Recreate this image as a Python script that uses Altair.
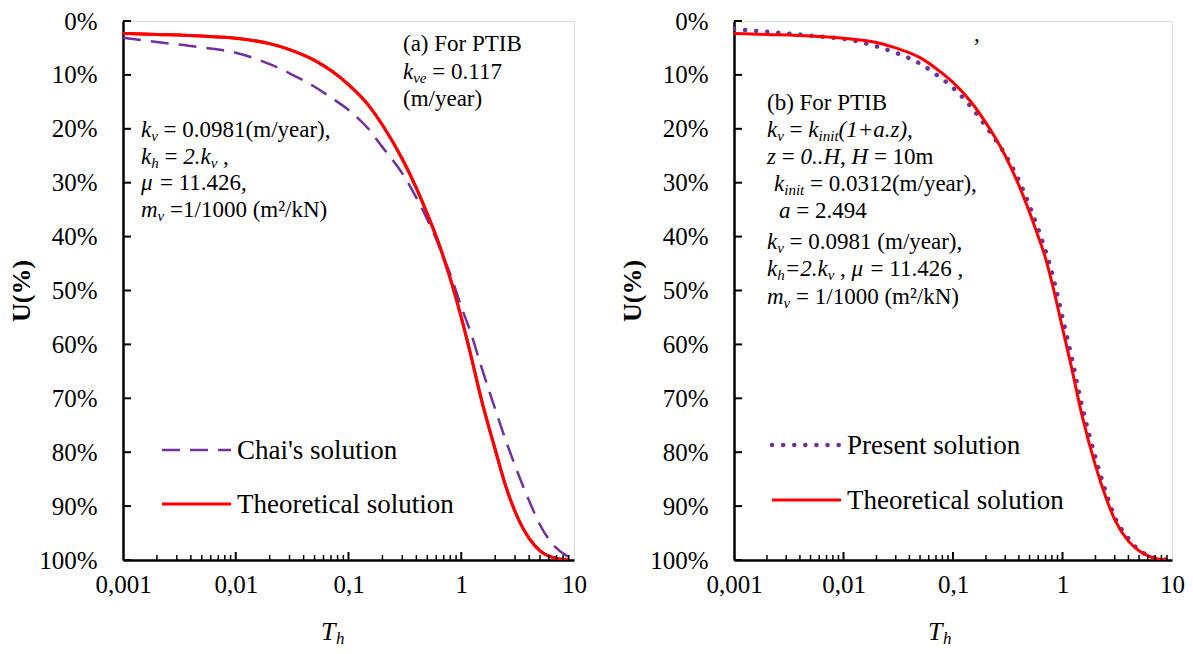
import altair as alt
import pandas as pd

FONT = "'Liberation Serif', 'Times New Roman', Tinos, 'DejaVu Serif', serif"
PURPLE = "#7030A0"
RED = "#FF0000"

# ---------------- data ----------------
a_theory_T = [0.001, 0.002, 0.005, 0.01, 0.02, 0.03, 0.05, 0.07, 0.1, 0.15, 0.2, 0.3, 0.4, 0.5,
              0.6, 0.7, 0.8, 1.0, 1.2, 1.5, 2.0, 2.5, 3.0, 4.0, 5.0, 6.0, 7.0, 8.0, 9.0]
a_theory_U = [2.3, 2.5, 2.8, 3.2, 4.2, 5.3, 7.3, 9.2, 11.8, 15.6, 19.3, 25.6, 31, 35.8,
              40, 44, 47.8, 55, 61.5, 70, 79.5, 86.5, 91, 96, 98.3, 99.3, 99.7, 99.9, 100]

a_chai_T = [0.001, 0.002, 0.005, 0.01, 0.02, 0.03, 0.05, 0.07, 0.1, 0.15, 0.2, 0.3, 0.4, 0.5,
            0.6, 0.7, 0.8, 1.0, 1.2, 1.5, 2.0, 2.5, 3.0, 4.0, 5.0, 6.0, 7.0, 8.0, 10.0]
a_chai_U = [3.1, 3.9, 4.9, 5.9, 8.0, 9.7, 12.2, 14.2, 16.5, 20.0, 23.4, 28.3, 32.8, 36.8,
            40.5, 44, 47, 53, 57.5, 64, 72, 78, 82.5, 89, 93.5, 96.2, 97.8, 98.8, 99.8]

b_theory_T = [0.001, 0.002, 0.005, 0.01, 0.02, 0.03, 0.05, 0.07, 0.1, 0.15, 0.2, 0.3, 0.4, 0.5,
              0.6, 0.7, 0.8, 1.0, 1.2, 1.5, 2.0, 2.5, 3.0, 4.0, 5.0, 6.0, 7.0, 8.0, 9.0]
b_theory_U = [2.3, 2.5, 2.8, 3.2, 4.0, 5.0, 6.8, 8.8, 11.4, 15.3, 18.9, 25, 30.5, 35.5,
              40, 44, 48.5, 57, 64, 73, 82.5, 88.5, 92.5, 96.5, 98.3, 99.2, 99.7, 99.9, 100]

b_present_T = [0.001, 0.0015, 0.002, 0.003, 0.005, 0.007, 0.01, 0.02, 0.03, 0.05, 0.07, 0.1,
               0.15, 0.2, 0.3, 0.4, 0.5, 0.6, 0.7, 0.8, 1.0, 1.2, 1.5, 2.0, 2.5, 3.0, 4.0,
               5.0, 6.0, 7.0, 8.0, 9.0]
b_present_U = [1.5, 1.8, 2.0, 2.3, 2.7, 3.0, 3.3, 4.7, 5.9, 7.9, 9.9, 12.4,
               16.2, 19.6, 24.8, 29.6, 34.3, 38.6, 42.6, 46.6, 55, 62, 71.2, 81, 87.5, 92, 96,
               98.2, 99.1, 99.6, 99.8, 100]

x_tick_values = [0.001, 0.01, 0.1, 1, 10]
x_tick_labels = ["0,001", "0,01", "0,1", "1", "10"]
x_minor_values = [m * d for d in [0.001, 0.01, 0.1, 1] for m in range(2, 10)]
x_major_inner = [0.01, 0.1, 1]
y_tick_values = list(range(0, 101, 10))

# ---------------- layout ----------------
W_A, W_B, H = 451, 438, 539
TOP = 20
A_LEFT, B_LEFT = 124, 736


def to_T(px, left, w):
    return 10 ** (-3 + 4 * (px - left) / w)


def to_U(py):
    return 100 * (py - TOP) / H


ROMAN = {' ': .25, '=': .564, '(': .333, ')': .333, '/': .278, '.': .25, ',': .25, 'm': .778,
         'y': .5, 'e': .444, 'a': .444, 'r': .333, 'k': .5, 'N': .722, '²': .3, 'F': .556,
         'o': .5, 'P': .556, 'T': .611, 'I': .333, 'B': .667, 'b': .5, 'μ': .576, '%': .833,
         "'": .18, 'C': .667, 'h': .5, 'i': .278, 's': .389, 'l': .278, 'u': .5, 't': .278,
         'n': .5, 'c': .444}
ITALIC = {' ': .25, 'k': .444, 'v': .444, 'e': .444, 'h': .5, 'i': .278, 'n': .5, 't': .278,
          'm': .722, 'z': .389, 'a': .5, 'H': .722, '.': .25, '+': .675, '(': .333, ')': .333,
          ',': .25, 'μ': .576, '=': .675, 'T': .556}

FS, SUB_FS, SUB_DY = 23, 15, 4


def seg_rows(lines, left, w):
    rows = []
    for x0, yc, segs in lines:
        cur = x0
        base = yc + 8
        for txt, st in segs:
            size = SUB_FS if st == 's' else FS
            table = ROMAN if st == 'r' else ITALIC
            lead = len(txt) - len(txt.lstrip(' '))
            w_lead = lead * table[' '] * size
            w_full = sum(table.get(c, .5) for c in txt) * size
            t = txt.strip(' ')
            if t:
                py = base + (SUB_DY if st == 's' else 0)
                rows.append(dict(T=to_T(cur + w_lead, left, w), U=to_U(py), text=t, style=st))
            cur += w_full
    return pd.DataFrame(rows)


a_lines = [
    (404, 42, [("(a) For PTIB", 'r')]),
    (404, 70, [("k", 'i'), ("ve", 's'), (" = 0.117", 'r')]),
    (404, 97, [("(m/year)", 'r')]),
    (142, 128, [("k", 'i'), ("v", 's'), (" = 0.0981(m/year),", 'r')]),
    (142, 155, [("k", 'i'), ("h", 's'), (" = ", 'r'), ("2.k", 'i'), ("v", 's'), (" ,", 'r')]),
    (142, 181, [("μ", 'i'), (" = 11.426,", 'r')]),
    (142, 208, [("m", 'i'), ("v", 's'), (" =1/1000 (m²/kN)", 'r')]),
]
b_lines = [
    (769, 101, [("(b) For PTIB", 'r')]),
    (769, 128, [("k", 'i'), ("v", 's'), (" = ", 'r'), ("k", 'i'), ("init", 's'), ("(1+a.z),", 'i')]),
    (769, 155, [("z", 'i'), (" = ", 'r'), ("0..H, H", 'i'), (" = 10m", 'r')]),
    (776, 182, [("k", 'i'), ("init", 's'), (" = 0.0312(m/year),", 'r')]),
    (781, 209, [("a", 'i'), (" = 2.494", 'r')]),
    (769, 240, [("k", 'i'), ("v", 's'), (" = 0.0981 (m/year),", 'r')]),
    (769, 267, [("k", 'i'), ("h", 's'), ("=2.k", 'i'), ("v", 's'), (" , ", 'r'), ("μ", 'i'),
                (" = 11.426 ,", 'r')]),
    (769, 295, [("m", 'i'), ("v", 's'), (" = 1/1000 (m²/kN)", 'r')]),
    (976, 32, [(",", 'r')]),
]

xscale = alt.Scale(type="log", domain=[0.001, 10], nice=False)
yscale = alt.Scale(domain=[0, 100], reverse=True, nice=False, zero=False)

label_expr = " : ".join(f"datum.value == {v} ? '{l}'" for v, l in zip(x_tick_values, x_tick_labels)) + " : ''"

x_axis = alt.Axis(values=x_tick_values, labelExpr=label_expr, title=None, grid=False,
                  ticks=False, tickSize=0, labelFont=FONT, labelFontSize=25, labelColor="black",
                  labelPadding=12, labelFlush=False, labelOverlap=False,
                  domainColor="black", domainWidth=2.5)
y_axis = alt.Axis(values=y_tick_values, labelExpr="datum.value + '%'", title="U(%)",
                  grid=False, ticks=False, tickSize=0, labelFont=FONT, labelFontSize=25,
                  labelColor="black", labelPadding=26, labelFlush=False, labelOverlap=False,
                  titleFont=FONT, titleFontSize=26, titleFontWeight="bold", titleColor="black",
                  titlePadding=4, domainColor="black", domainWidth=2.5)


def X(field="T"):
    return alt.X(f"{field}:Q", scale=xscale)


def Y(field="U"):
    return alt.Y(f"{field}:Q", scale=yscale)


def line_layer(T, U, color, width, dash=None, cap="butt", axes=False):
    df = pd.DataFrame({"T": T, "U": U})
    kw = dict(color=color, strokeWidth=width, strokeCap=cap, interpolate="monotone", clip=True)
    if dash:
        kw["strokeDash"] = dash
    if axes:
        enc = dict(x=alt.X("T:Q", scale=xscale, axis=x_axis), y=alt.Y("U:Q", scale=yscale, axis=y_axis))
    else:
        enc = dict(x=X(), y=Y())
    return alt.Chart(df).mark_line(**kw).encode(**enc)


def tick_layers():
    minor = alt.Chart(pd.DataFrame({"T": x_minor_values})).mark_rule(
        color="black", strokeWidth=1.5).encode(x=X(), y=alt.value(H), y2=alt.value(H - 5))
    major = alt.Chart(pd.DataFrame({"T": x_major_inner})).mark_rule(
        color="black", strokeWidth=2).encode(x=X(), y=alt.value(H), y2=alt.value(H - 8))
    yt = alt.Chart(pd.DataFrame({"U": y_tick_values})).mark_rule(
        color="black", strokeWidth=2).encode(y=Y(), x=alt.value(0), x2=alt.value(8))
    return [minor, major, yt]


def text_layers(df):
    layers = []
    styles = {'r': dict(fontSize=FS, fontStyle="normal"),
              'i': dict(fontSize=FS, fontStyle="italic"),
              's': dict(fontSize=SUB_FS, fontStyle="italic")}
    for st, props in styles.items():
        sub = df[df["style"] == st]
        if len(sub):
            layers.append(alt.Chart(sub).mark_text(align="left", baseline="alphabetic", font=FONT,
                                                   color="black", **props)
                          .encode(x=X(), y=Y(), text="text:N"))
    return layers


def legend_layers(entries, left, w):
    layers = []
    for (label, color, width, dash, cap, x1, x2, yc) in entries:
        rdf = pd.DataFrame({"T": [to_T(x1, left, w)], "T2": [to_T(x2, left, w)], "U": [to_U(yc)]})
        kw = dict(color=color, strokeWidth=width, strokeCap=cap)
        if dash:
            kw["strokeDash"] = dash
        layers.append(alt.Chart(rdf).mark_rule(**kw).encode(x=X(), x2="T2:Q", y=Y()))
        tdf = pd.DataFrame({"T": [to_T(x2 + 6, left, w)], "U": [to_U(yc + 9)], "text": [label]})
        layers.append(alt.Chart(tdf).mark_text(align="left", baseline="alphabetic", font=FONT,
                                               fontSize=27, color="black")
                      .encode(x=X(), y=Y(), text="text:N"))
    return layers


def xtitle_layers(x_left, left, w):
    t = pd.DataFrame({"T": [to_T(x_left, left, w)], "U": [to_U(639)], "text": ["T"]})
    h = pd.DataFrame({"T": [to_T(x_left + 15, left, w)], "U": [to_U(643)], "text": ["h"]})
    return [
        alt.Chart(t).mark_text(align="left", baseline="alphabetic", font=FONT, fontSize=26,
                               fontStyle="italic", color="black").encode(x=X(), y=Y(), text="text:N"),
        alt.Chart(h).mark_text(align="left", baseline="alphabetic", font=FONT, fontSize=17,
                               fontStyle="italic", color="black").encode(x=X(), y=Y(), text="text:N"),
    ]


panel_a = alt.layer(
    line_layer(a_theory_T, a_theory_U, RED, 3, axes=True),
    line_layer(a_chai_T, a_chai_U, PURPLE, 2.5, dash=[18, 10]),
    line_layer(a_theory_T, a_theory_U, RED, 3),
    *tick_layers(),
    *text_layers(seg_rows(a_lines, A_LEFT, W_A)),
    *legend_layers([
        ("Chai's solution", PURPLE, 2.5, [18, 10], "butt", 163, 232, 449),
        ("Theoretical solution", RED, 3, None, "butt", 163, 232, 503),
    ], A_LEFT, W_A),
    *xtitle_layers(322, A_LEFT, W_A),
).properties(width=W_A, height=H)

panel_b = alt.layer(
    line_layer(b_present_T, b_present_U, PURPLE, 4.5, dash=[0.1, 11], cap="round", axes=True),
    line_layer(b_theory_T, b_theory_U, RED, 3),
    *tick_layers(),
    *text_layers(seg_rows(b_lines, B_LEFT, W_B)),
    *legend_layers([
        ("Present solution", PURPLE, 4.5, [0.1, 11], "round", 774, 843, 444),
        ("Theoretical solution", RED, 3, None, "butt", 774, 843, 499),
    ], B_LEFT, W_B),
    *xtitle_layers(930, B_LEFT, W_B),
).properties(width=W_B, height=H)

chart = alt.hconcat(panel_a, panel_b, spacing=32).properties(
    padding={"left": 0, "top": 0, "right": 0, "bottom": -1}
).configure_view(stroke="black", strokeWidth=1.5).configure(background="white")

chart.save("out.html", embed_options={"renderer": "svg", "actions": False})
